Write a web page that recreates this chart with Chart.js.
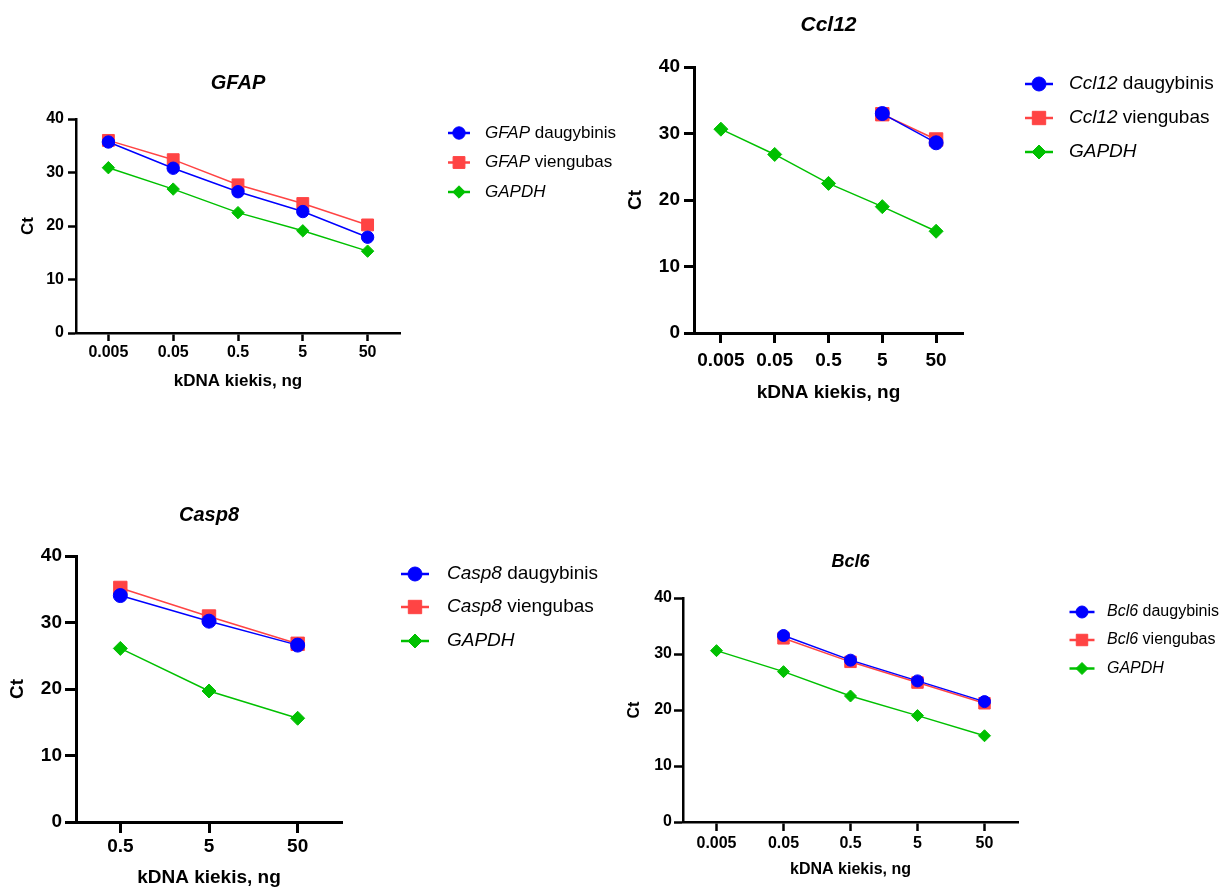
<!DOCTYPE html>
<html><head><meta charset="utf-8">
<script src="https://cdn.jsdelivr.net/npm/chart.js@4.4.0/dist/chart.umd.min.js"></script>
<style>
html,body{margin:0;padding:0;background:#fff;width:1224px;height:887px;overflow:hidden}
canvas{position:absolute;left:0;top:0}
</style></head><body>
<canvas id="c1" width="1224" height="887"></canvas>
<canvas id="c2" width="1224" height="887"></canvas>
<canvas id="c3" width="1224" height="887"></canvas>
<canvas id="c4" width="1224" height="887"></canvas>
<script>
// ---------- DATA ----------
const doses5 = ['0.005', '0.05', '0.5', '5', '50'];
const doses3 = ['0.5', '5', '50'];
const yTicks = [0, 10, 20, 30, 40];

const gfapMulti  = [35.7, 30.8, 26.4, 22.7, 17.9];
const gfapSingle = [36.0, 32.4, 27.7, 24.2, 20.2];
const gfapGapdh  = [30.9, 26.9, 22.5, 19.1, 15.3];

const ccl12Multi  = [null, null, null, 33.0, 28.6];
const ccl12Single = [null, null, null, 32.9, 29.1];
const ccl12Gapdh  = [30.65, 26.85, 22.5, 19.0, 15.3];

const casp8Multi  = [34.05, 30.2, 26.6];
const casp8Single = [35.2, 30.9, 26.8];
const casp8Gapdh  = [26.1, 19.7, 15.6];

const bcl6Multi  = [null, 33.3, 28.9, 25.2, 21.5];
const bcl6Single = [null, 32.8, 28.6, 24.9, 21.2];
const bcl6Gapdh  = [30.6, 26.85, 22.5, 19.0, 15.4];

const xTitle = 'kDNA kiekis, ng';
const yTitle = 'Ct';
const suffixMulti = 'daugybinis';
const suffixSingle = 'viengubas';
const refGene = 'GAPDH';

// ---------- STYLE ----------
const BLUE = '#0000ff', RED = '#ff4444', GREEN = '#00c000';
const FONT = '"Liberation Sans", Arial, Helvetica, sans-serif';
Chart.defaults.color = '#000';
Chart.defaults.font.family = FONT;

const decorPlugin = {
  id: 'decor',
  afterDraw(chart, args, o) {
    const ctx = chart.ctx;
    const ca = chart.chartArea;
    ctx.save();
    ctx.fillStyle = '#000';
    ctx.textAlign = 'center';
    ctx.textBaseline = 'middle';
    ctx.font = 'italic bold ' + o.titleSize + 'px ' + FONT;
    ctx.fillText(o.gene, (ca.left + ca.right) / 2, o.titleY);
    const L = o.legend;
    chart.data.datasets.forEach((ds, i) => {
      const y = L.ys[i];
      ctx.strokeStyle = ds.borderColor;
      ctx.lineWidth = 2.5;
      ctx.beginPath();
      ctx.moveTo(L.cx - L.half, y);
      ctx.lineTo(L.cx + L.half, y);
      ctx.stroke();
      ctx.fillStyle = ds.backgroundColor;
      ctx.strokeStyle = ds.borderColor;
      ctx.lineWidth = 1;
      Chart.helpers.drawPoint(ctx, {pointStyle: ds.pointStyle, radius: ds.pointRadius, rotation: 0, borderWidth: 1}, L.cx, y);
      ctx.fillStyle = '#000';
      ctx.textAlign = 'left';
      ctx.textBaseline = 'middle';
      ctx.font = 'italic ' + L.size + 'px ' + FONT;
      ctx.fillText(ds.geneName, L.tx, y);
      if (ds.suffix) {
        const w = ctx.measureText(ds.geneName + ' ').width;
        ctx.font = L.size + 'px ' + FONT;
        ctx.fillText(ds.suffix, L.tx + w, y);
      }
    });
    ctx.restore();
  }
};

function makePanel(id, p, labels, gene, multi, single, gapdh) {
  const yLH = p.axisSize * 1.2, xLH = p.axisSize * 1.2;
  const yW = p.area.l - p.yTitleX + yLH / 2;
  const xH = p.xTitleY - p.area.b + xLH / 2;
  const mk = (name, suffix, data, color, style, r) => ({
    label: name + (suffix ? ' ' + suffix : ''), geneName: name, suffix: suffix,
    data: data, borderColor: color, backgroundColor: color,
    pointStyle: style, pointRadius: r, pointHoverRadius: r, pointBorderWidth: 1,
    borderWidth: 1.5, tension: 0, spanGaps: false
  });
  new Chart(document.getElementById(id), {
    type: 'line',
    data: {
      labels: labels,
      datasets: [
        mk(gene, suffixMulti, multi, BLUE, 'circle', p.r),
        mk(gene, suffixSingle, single, RED, 'rect', p.r * 1.35),
        mk(refGene, '', gapdh, GREEN, 'rectRot', p.r)
      ]
    },
    options: {
      responsive: false, animation: false, events: [],
      layout: {padding: {left: p.area.l - yW, top: p.area.t, right: 1224 - p.area.r, bottom: 887 - p.area.b - xH}},
      plugins: {legend: {display: false}, title: {display: false}, tooltip: {enabled: false},
        decor: {gene: gene, titleSize: p.titleSize, titleY: p.titleY, legend: p.legend}},
      scales: {
        x: {
          type: 'category', offset: true,
          grid: {display: true, drawOnChartArea: false, drawTicks: true, offset: false,
                 tickLength: p.tickLen, tickColor: '#000', tickWidth: p.axisW},
          border: {display: true, color: '#000', width: p.axisW},
          ticks: {font: {size: p.tickSize, weight: 'bold'}, color: '#000', padding: p.xPad, maxRotation: 0, autoSkip: false},
          title: {display: true, text: xTitle, font: {size: p.axisSize, weight: 'bold'}, color: '#000', padding: 0},
          afterFit: s => { s.height = xH; }
        },
        y: {
          min: 0, max: 40,
          afterBuildTicks: s => { s.ticks = yTicks.map(v => ({value: v})); },
          grid: {display: true, drawOnChartArea: false, drawTicks: true,
                 tickLength: p.tickLen, tickColor: '#000', tickWidth: p.axisW},
          border: {display: true, color: '#000', width: p.axisW},
          ticks: {font: {size: p.tickSize, weight: 'bold'}, color: '#000', padding: p.yPad},
          title: {display: true, text: yTitle, font: {size: p.axisSize, weight: 'bold'}, color: '#000', padding: 0},
          afterFit: s => { s.width = yW; }
        }
      }
    },
    plugins: [decorPlugin]
  });
}

makePanel('c1', {
  area: {l: 76, t: 119, r: 400, b: 333}, yTitleX: 28, xTitleY: 381.5,
  tickSize: 16, axisSize: 17, titleSize: 20, titleY: 83, r: 6.2, tickLen: 8, axisW: 2.5, xPad: 2, yPad: 4,
  legend: {cx: 459, half: 11, tx: 485, ys: [133, 162.5, 192], size: 17}
}, doses5, 'GFAP', gfapMulti, gfapSingle, gfapGapdh);

makePanel('c2', {
  area: {l: 694, t: 67, r: 963, b: 333}, yTitleX: 636, xTitleY: 392.5,
  tickSize: 19, axisSize: 19, titleSize: 21, titleY: 25, r: 7, tickLen: 10, axisW: 3, xPad: 6, yPad: 4,
  legend: {cx: 1039, half: 14, tx: 1069, ys: [84, 118, 152], size: 19}
}, doses5, 'Ccl12', ccl12Multi, ccl12Single, ccl12Gapdh);

makePanel('c3', {
  area: {l: 76, t: 556, r: 342, b: 822}, yTitleX: 18, xTitleY: 878,
  tickSize: 19, axisSize: 19, titleSize: 20, titleY: 515, r: 7, tickLen: 11, axisW: 3, xPad: 2, yPad: 3,
  legend: {cx: 415, half: 14, tx: 447, ys: [574, 607, 641], size: 19}
}, doses3, 'Casp8', casp8Multi, casp8Single, casp8Gapdh);

makePanel('c4', {
  area: {l: 683, t: 598, r: 1018, b: 822}, yTitleX: 635, xTitleY: 870,
  tickSize: 16, axisSize: 16, titleSize: 18, titleY: 562, r: 6, tickLen: 9, axisW: 2.5, xPad: 3, yPad: 2,
  legend: {cx: 1082, half: 12.5, tx: 1107, ys: [612, 640, 668.5], size: 16}
}, doses5, 'Bcl6', bcl6Multi, bcl6Single, bcl6Gapdh);
</script>
</body></html>
